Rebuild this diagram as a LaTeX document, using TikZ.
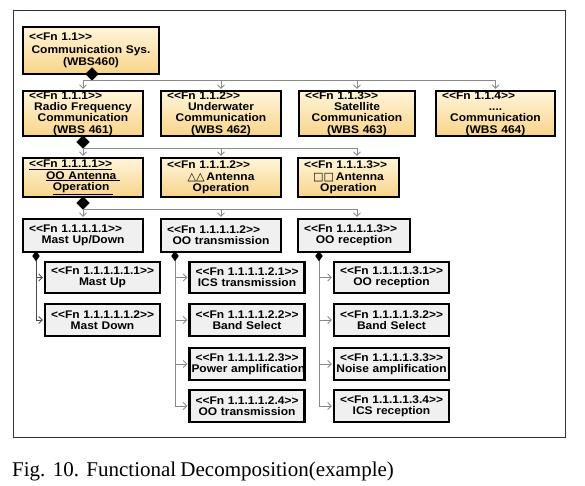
\documentclass[tikz,border=0pt]{standalone}
\usepackage{fontspec}
\setmainfont{Liberation Serif}
\setsansfont{Liberation Sans}[FakeStretch=1.08]
\newfontfamily\shapefont{DejaVu Sans}
\usepackage{tikz}
\usetikzlibrary{arrows.meta,shapes.geometric}

\definecolor{fnyellowtop}{HTML}{FFF5DA}
\definecolor{fnyellowbot}{HTML}{F8D48A}
\definecolor{fngray}{HTML}{F0F0F0}
\definecolor{linkgray}{HTML}{8A8A8A}

% first line of a box: the function number, set flush left
\newcommand{\fnline}[1]{\makebox[\hsize][l]{\hskip4pt #1}\\}
\newcommand{\fnid}[1]{\fnline{<{}<Fn #1>{}>}}

\begin{document}
\begin{tikzpicture}[
  x=1pt,
  y=-1pt,
  >={Straight Barb[length=3.5pt,width=7pt]},
  every node/.style={font=\sffamily\bfseries\fontsize{11.1}{11.3}\selectfont,inner xsep=2pt,inner ysep=0pt,align=center},
  box/.style={draw=black,line width=2.2pt,rectangle},
  ybox/.style={box,top color=fnyellowtop,bottom color=fnyellowbot},
  gbox/.style={box,fill=fngray},
  dia/.style={draw,diamond,fill=black,inner sep=0pt,minimum width=13pt,minimum height=13pt},
  sdia/.style={dia,minimum width=7pt,minimum height=10pt},
  edge/.style={->,draw=linkgray,line width=0.9pt,shorten >=1.1pt},
  frame/.style={draw=black!80,line width=0.8pt}
]
\useasboundingbox (0,0) rectangle (585,486);
\draw[frame] (13,10) rectangle (565,437);

% Top level
\node[ybox,text width=132pt,minimum height=46.8pt,font=\sffamily\bfseries\fontsize{11.1}{12.3}\selectfont] (n11) at (91,50.5) {\fnid{1.1}Communication Sys.\\(WBS460)};

% Second level
\node[ybox,text width=116pt,minimum height=44.8pt] (n111) at (83,113.5) {\fnid{1.1.1}Radio Frequency\\Communication\\(WBS 461)};
\node[ybox,text width=116pt,minimum height=44.8pt] (n112) at (221,113.5) {\fnid{1.1.2}Underwater\\Communication\\(WBS 462)};
\node[ybox,text width=112pt,minimum height=44.8pt] (n113) at (357,113.5) {\fnid{1.1.3}Satellite\\Communication\\(WBS 463)};
\node[ybox,text width=115pt,minimum height=44.8pt] (n114) at (495.5,113.5) {\fnid{1.1.4}....\\Communication\\(WBS 464)};

\node[dia] (d11) at (92,74) {};
\draw[edge] (d11.south) -| (n111.north);
\draw[edge] (d11.south) -| (n112.north);
\draw[edge] (d11.south) -| (n113.north);
\draw[edge] (d11.south) -| (n114.north);

% Third level
\node[ybox,text width=116pt,minimum height=38.8pt] (n1111) at (83,177.5) {\fnline{\underline{<{}<Fn 1.1.1.1>{}>}}\underline{OO Antenna\ }\\\underline{Operation\ }};
\node[ybox,text width=116pt,minimum height=38.8pt] (n1112) at (221,177.5) {\fnid{1.1.1.2}{\shapefont △△}\,Antenna\\Operation};
\node[ybox,text width=97pt,minimum height=38.8pt] (n1113) at (348.5,177.5) {\fnid{1.1.1.3}{\shapefont □□}\,Antenna\\Operation};

\node[dia] (d111) at (83,142) {};
\draw[edge] (d111.south) -| (n1111.north);
\draw[edge] (d111.south) -| (n1112.north);
\draw[edge] (d111.south) -| (n1113.north -| n113.north);

% Fourth level
\node[gbox,text width=116pt,minimum height=32.8pt] (n11111) at (83,235.5) {\fnid{1.1.1.1.1}Mast Up/Down};
\node[gbox,text width=116pt,minimum height=32.8pt] (n11112) at (221,235.5) {\fnid{1.1.1.1.2}OO transmission};
\node[gbox,text width=108pt,minimum height=32.8pt] (n11113) at (354,235.5) {\fnid{1.1.1.1.3}OO reception};

\node[dia] (d1111) at (83,203) {};
\draw[edge] (d1111.south) -| (n11111.north);
\draw[edge] (d1111.south) -| (n11112.north);
\draw[edge] (d1111.south) -| (n11113.north -| n113.north);

% Fifth level
\node[gbox,text width=111pt,minimum height=31.5pt] (n111111) at (102.5,277.5) {\fnid{1.1.1.1.1.1}Mast Up};
\node[gbox,text width=111pt,minimum height=31.5pt] (n111112) at (102.5,320) {\fnid{1.1.1.1.1.2}Mast Down};

\node[gbox,text width=111pt,minimum height=31.5pt] (n111121) at (247,277.5) {\fnid{1.1.1.1.2.1}ICS transmission};
\node[gbox,text width=111pt,minimum height=31.5pt] (n111122) at (247,320) {\fnid{1.1.1.1.2.2}Band Select};
\node[gbox,text width=111pt,minimum height=31.5pt] (n111123) at (247,364) {\fnid{1.1.1.1.2.3}\mbox{Power amplification}};
\node[gbox,text width=111pt,minimum height=31.5pt] (n111124) at (247,406) {\fnid{1.1.1.1.2.4}OO transmission};

\node[gbox,text width=111pt,minimum height=31.5pt] (n111131) at (391.5,277.5) {\fnid{1.1.1.1.3.1}OO reception};
\node[gbox,text width=111pt,minimum height=31.5pt] (n111132) at (391.5,320) {\fnid{1.1.1.1.3.2}Band Select};
\node[gbox,text width=111pt,minimum height=31.5pt] (n111133) at (391.5,364) {\fnid{1.1.1.1.3.3}\mbox{Noise amplification}};
\node[gbox,text width=111pt,minimum height=31.5pt] (n111134) at (391.5,406) {\fnid{1.1.1.1.3.4}ICS reception};

\node[sdia] (d11111) at (36,256) {};
\node[sdia] (d11112) at (175,256) {};
\node[sdia] (d11113) at (319,256) {};
\draw[edge,draw=black!70] (d11111.south) |- (n111111.west);
\draw[edge,draw=black!70] (d11111.south) |- (n111112.west);
\draw[edge] (d11112.south) |- (n111121.west);
\draw[edge] (d11112.south) |- (n111122.west);
\draw[edge] (d11112.south) |- (n111123.west);
\draw[edge] (d11112.south) |- (n111124.west);
\draw[edge] (d11113.south) |- (n111131.west);
\draw[edge] (d11113.south) |- (n111132.west);
\draw[edge] (d11113.south) |- (n111133.west);
\draw[edge] (d11113.south) |- (n111134.west);

% Caption
\node[font=\rmfamily\fontsize{21}{24}\selectfont,anchor=base west,inner sep=0pt] (caption) at (12,476) {Fig.\hspace{0.35em}10.\hspace{0.35em}Functional\hspace{0.2em}Decomposition(example)};
\end{tikzpicture}
\end{document}
